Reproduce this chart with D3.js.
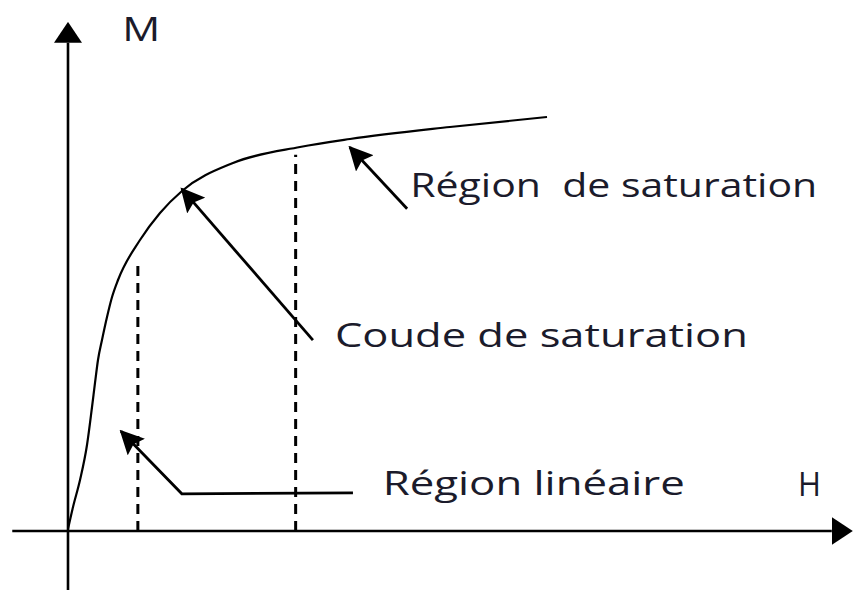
<!DOCTYPE html>
<html>
<head>
<meta charset="utf-8">
<script src="https://cdn.jsdelivr.net/npm/d3@7"></script>
<style>
  body { margin: 0; background: #fff; }
  text { font-family: "Open Sans", "Noto Sans", sans-serif; white-space: pre; }
</style>
</head>
<body>
<div id="chart"></div>
<script>
// courbe d'aimantation M(H) (unités arbitraires 0-100)
const curveH = [0, 0.64, 1.53, 2.42, 3.06, 3.44, 3.82, 4.33, 4.97, 5.61, 6.37, 9.17, 11.72, 14.52, 21.02, 29.55, 35.92, 48.66, 61.02];
const curveM = [0.39, 4.72, 10.02, 16.9, 24.36, 29.08, 33.6, 37.52, 42.04, 45.97, 49.31, 57.17, 62.48, 66.8, 72.3, 75.44, 77.01, 79.37, 81.34];

// traits pointillés verticaux
const dashH = [8.9, 29.0];
const dashTop = [52.8, 73.9];

// flèches d'annotation (points H, M ; le dernier est la pointe)
const arrowNames = ['saturation', 'coude', 'lineaire'];
const arrowH = [[43.2, 35.9], [31.2, 14.5], [36.3, 14.5, 6.75]];
const arrowM = [[63.3, 75.4], [37.5, 67.2], [7.5, 7.3, 19.6]];

const labels = ['Région  de saturation', 'Coude de saturation', 'Région linéaire', 'H', 'M'];
const labelH = [43.6, 34.0, 40.1, 93.0, 6.9];
const labelM = [65.7, 36.1, 7.0, 6.9, 96.3];
const labelWidth = [407, 413, 302, 23, 38];

const dms = { width: 853, height: 596 };

const xScale = d3.scaleLinear().domain([0, 100]).range([68, 853]);
const yScale = d3.scaleLinear().domain([0, 100]).range([531, 22]);

const svg = d3.select('#chart').append('svg')
    .attr('width', dms.width)
    .attr('height', dms.height);

const defs = svg.append('defs');
defs.append('marker')
    .attr('id', 'axis-head')
    .attr('markerUnits', 'userSpaceOnUse')
    .attr('viewBox', '0 -14 21 28')
    .attr('refX', 0).attr('refY', 0)
    .attr('markerWidth', 21).attr('markerHeight', 28)
    .attr('orient', 'auto')
    .append('path')
    .attr('d', 'M0,-14L21,0L0,14Z')
    .attr('fill', '#000');
defs.append('marker')
    .attr('id', 'note-head')
    .attr('markerUnits', 'userSpaceOnUse')
    .attr('viewBox', '0 -12 24 24')
    .attr('refX', 22).attr('refY', 0)
    .attr('markerWidth', 24).attr('markerHeight', 24)
    .attr('orient', 'auto')
    .append('path')
    .attr('d', 'M0,-12L24,0L0,12L4,0Z')
    .attr('fill', '#000');

// axes
const axes = svg.append('g').attr('id', 'axes')
    .attr('stroke', '#000')
    .attr('stroke-width', 2.6);
axes.append('line')
    .attr('x1', xScale(-7.1)).attr('y1', yScale(0))
    .attr('x2', xScale(97.3)).attr('y2', yScale(0))
    .attr('marker-end', 'url(#axis-head)');
axes.append('line')
    .attr('x1', xScale(0)).attr('y1', yScale(-11.6))
    .attr('x2', xScale(0)).attr('y2', yScale(95.9))
    .attr('marker-end', 'url(#axis-head)');

// pointillés
svg.append('g').attr('id', 'dashes')
    .selectAll('line')
    .data(dashH)
    .join('line')
    .attr('x1', d => xScale(d)).attr('x2', d => xScale(d))
    .attr('y1', yScale(0))
    .attr('y2', (d, i) => yScale(dashTop[i]))
    .attr('stroke', '#000')
    .attr('stroke-width', 3)
    .attr('stroke-dasharray', '10,7');

// courbe
const curveData = curveH.map((h, i) => ({ h: h, m: curveM[i] }));
const lineGenerator = d3.line()
    .x(d => xScale(d.h))
    .y(d => yScale(d.m))
    .curve(d3.curveMonotoneX);
svg.append('path')
    .attr('d', lineGenerator(curveData))
    .attr('fill', 'none')
    .attr('stroke', '#000')
    .attr('stroke-width', 2.2);

// flèches
const arrowLine = d3.line()
    .x(d => xScale(d.h))
    .y(d => yScale(d.m));
svg.append('g').attr('id', 'arrows')
    .selectAll('path')
    .data(arrowNames)
    .join('path')
    .attr('d', (d, i) => arrowLine(arrowH[i].map((h, j) => ({ h: h, m: arrowM[i][j] }))))
    .attr('fill', 'none')
    .attr('stroke', '#000')
    .attr('stroke-width', 2.8)
    .attr('marker-end', 'url(#note-head)');

// textes
svg.append('g').attr('id', 'labels')
    .selectAll('text')
    .data(labels)
    .join('text')
    .attr('x', (d, i) => xScale(labelH[i]))
    .attr('y', (d, i) => yScale(labelM[i]))
    .attr('font-size', 33)
    .attr('fill', '#1b1b2b')
    .attr('textLength', (d, i) => labelWidth[i])
    .attr('lengthAdjust', 'spacingAndGlyphs')
    .text(d => d);
</script>
</body>
</html>
